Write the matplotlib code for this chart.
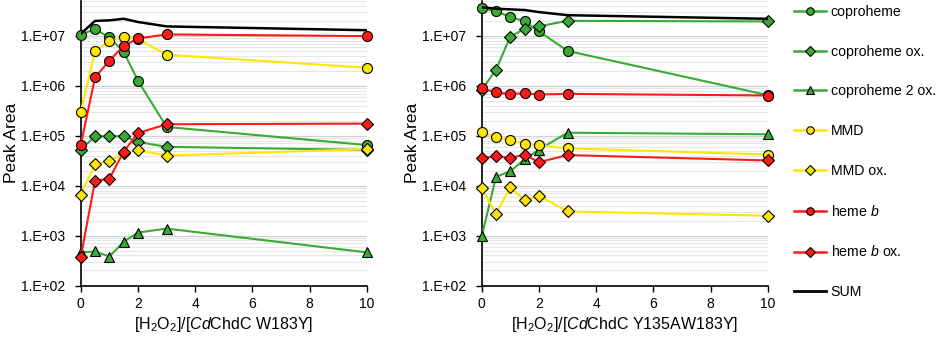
import numpy as np
import matplotlib
matplotlib.use('Agg')
import matplotlib.pyplot as plt
import matplotlib.ticker as ticker
from matplotlib.lines import Line2D

plt.rcParams['font.family'] = ['Liberation Sans', 'DejaVu Sans']
plt.rcParams['mathtext.fontset'] = 'custom'
plt.rcParams['mathtext.rm'] = 'Liberation Sans'
plt.rcParams['mathtext.it'] = 'Liberation Sans:italic'

# H2O2 / enzyme ratio
ratio = [0, 0.5, 1, 1.5, 2, 3, 10]

# CdChdC W183Y
w_copro = [1.05e7, 1.38e7, 9.3e6, 4.8e6, 1.26e6, 1.5e5, 6.5e4]
w_copro_ox = [5.2e4, 9.8e4, 9.8e4, 9.8e4, 7.5e4, 6.0e4, 5.2e4]
w_copro_2ox = [4.6e2, 4.8e2, 3.8e2, 7.5e2, 1.15e3, 1.38e3, 4.6e2]
w_mmd = [3.0e5, 4.9e6, 7.9e6, 9.7e6, 8.6e6, 4.2e6, 2.3e6]
w_mmd_ox = [6.6e3, 2.7e4, 3.1e4, 4.5e4, 5.1e4, 4.0e4, 5.4e4]
w_hemeb = [6.5e4, 1.47e6, 3.2e6, 6.3e6, 8.9e6, 1.07e7, 9.9e6]
w_hemeb_ox = [3.7e2, 1.26e4, 1.37e4, 4.8e4, 1.13e5, 1.7e5, 1.75e5]
w_sum = [1.1e7, 2.0e7, 2.05e7, 2.2e7, 1.9e7, 1.55e7, 1.3e7]

# CdChdC Y135AW183Y
y_copro = [3.6e7, 3.1e7, 2.4e7, 1.95e7, 1.24e7, 5.0e6, 6.5e5]
y_copro_ox = [8.3e5, 2.1e6, 9.7e6, 1.38e7, 1.56e7, 2.0e7, 1.95e7]
y_copro_2ox = [9.6e2, 1.5e4, 1.95e4, 3.35e4, 5.3e4, 1.15e5, 1.07e5]
y_mmd = [1.18e5, 9.3e4, 8.3e4, 6.9e4, 6.4e4, 5.6e4, 4.2e4]
y_mmd_ox = [9.1e3, 2.7e3, 9.3e3, 5.1e3, 6.3e3, 3.05e3, 2.5e3]
y_hemeb = [8.9e5, 7.4e5, 6.8e5, 7.1e5, 6.7e5, 6.9e5, 6.4e5]
y_hemeb_ox = [3.6e4, 3.85e4, 3.6e4, 4.2e4, 2.95e4, 4.1e4, 3.2e4]
y_sum = [3.75e7, 3.5e7, 3.4e7, 3.3e7, 3.0e7, 2.6e7, 2.2e7]

labels = ['coproheme', 'coproheme ox.', 'coproheme 2 ox.', 'MMD', 'MMD ox.',
          'heme $\\it{b}$', 'heme $\\it{b}$ ox.', 'SUM']

GREEN = '#3aaa35'
YELLOW = '#ffe600'
RED = '#ff1a1a'
styles = [(GREEN, 'o', 7.2), (GREEN, 'D', 6.2), (GREEN, '^', 7.5),
          (YELLOW, 'o', 7.2), (YELLOW, 'D', 6.2),
          (RED, 'o', 7.2), (RED, 'D', 6.2), ('black', None, 0)]


def draw_panel(ax, series, xlabel):
    for vals, (c, m, ms) in zip(series, styles):
        if m is None:
            ax.plot(ratio, vals, color=c, lw=1.8, zorder=3)
        else:
            ax.plot(ratio, vals, color=c, lw=1.5, marker=m, ms=ms,
                    mfc=c, mec='black', mew=0.8, clip_on=False, zorder=3)
    ax.set_yscale('log')
    ax.set_ylim(1e2, 5e7)
    ax.set_xlim(0, 10)
    ax.xaxis.set_major_locator(ticker.MultipleLocator(2))
    ax.yaxis.set_major_locator(ticker.LogLocator(base=10, numticks=10))
    ax.yaxis.set_minor_locator(ticker.LogLocator(base=10, subs=np.arange(2, 10), numticks=20))
    ax.yaxis.set_major_formatter(ticker.FuncFormatter(lambda v, p: '1.E+%02d' % round(np.log10(v))))
    ax.yaxis.set_minor_formatter(ticker.NullFormatter())
    ax.grid(True, which='major', axis='y', color='#d0d0d0', lw=0.9, zorder=0)
    ax.grid(True, which='minor', axis='y', color='#e6e6e6', lw=0.8, zorder=0)
    ax.tick_params(axis='y', which='minor', length=0)
    ax.tick_params(axis='both', which='major', direction='out', length=4.5, width=1,
                   labelsize=10, color='black')
    ax.tick_params(axis='y', which='major', pad=6.5)
    ax.spines['top'].set_visible(False)
    ax.spines['right'].set_visible(False)
    ax.spines['left'].set_linewidth(1.2)
    ax.spines['bottom'].set_linewidth(1.2)
    ax.set_axisbelow(True)
    ax.set_ylabel('Peak Area', fontsize=12.5)
    ax.yaxis.set_label_coords(-0.2155, 0.5)
    ax.set_xlabel(xlabel, fontsize=11.5, labelpad=3)


fig = plt.figure(figsize=(9.41, 3.37), dpi=100)
ax1 = fig.add_axes([0.0858, 0.1528, 0.3042, 0.8442])
ax2 = fig.add_axes([0.5119, 0.1528, 0.3042, 0.8442])

draw_panel(ax1, [w_copro, w_copro_ox, w_copro_2ox, w_mmd, w_mmd_ox, w_hemeb, w_hemeb_ox, w_sum],
           '[H$_2$O$_2$]/[$\\it{Cd}$ChdC W183Y]')
draw_panel(ax2, [y_copro, y_copro_ox, y_copro_2ox, y_mmd, y_mmd_ox, y_hemeb, y_hemeb_ox, y_sum],
           '[H$_2$O$_2$]/[$\\it{Cd}$ChdC Y135AW183Y]')

handles = []
for (c, m, ms) in styles:
    if m is None:
        handles.append(Line2D([], [], color=c, lw=2))
    else:
        handles.append(Line2D([], [], color=c, lw=1.8, marker=m, ms=ms * 0.75,
                              mfc=c, mec='black', mew=0.8))
fig.legend(handles, labels, loc='upper left', bbox_to_anchor=(0.842, 0.99),
           frameon=False, fontsize=10.2, handlelength=2.3, handletextpad=0.3,
           labelspacing=1.82, borderaxespad=0, borderpad=0.1)

plt.savefig('out.png', dpi=100)
